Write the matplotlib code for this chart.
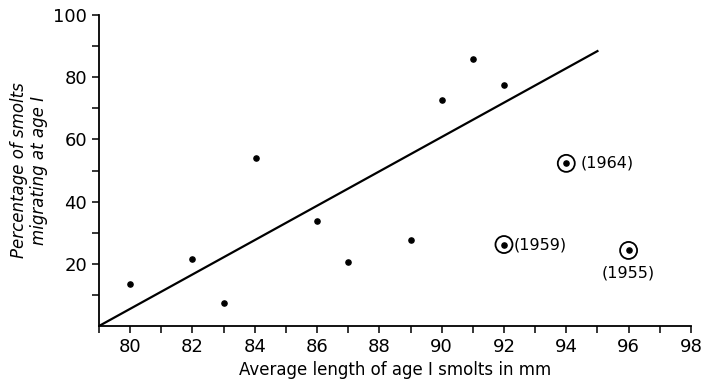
import matplotlib.pyplot as plt

# data
length = [80, 82, 83, 84.05, 86, 87, 89, 90, 91, 92]
percent = [13.4, 21.7, 7.3, 54.0, 33.7, 20.6, 27.6, 72.6, 85.8, 77.6]

odd_length = [92, 94, 96]
odd_percent = [26.2, 52.3, 24.3]
odd_years = ["(1959)", "(1964)", "(1955)"]

fit_x = [79, 95]
fit_y = [0, 88.4]

plt.rcParams['font.family'] = ['DejaVu Sans']

fig = plt.figure(figsize=(7.05, 3.85), dpi=100)
ax = fig.add_axes([0.1404, 0.1532, 0.8396, 0.8078])

ax.plot(fit_x, fit_y, color='black', lw=1.6)
ax.scatter(length, percent, s=14, color='black', zorder=3)
ax.scatter(odd_length, odd_percent, s=14, color='black', zorder=3)
ax.scatter(odd_length, odd_percent, s=150, facecolors='none',
           edgecolors='black', linewidths=1.3, zorder=3)

# year labels
ax.text(92.3, 26.2, odd_years[0], fontsize=11.5, va='center', ha='left')
ax.text(94.45, 52.3, odd_years[1], fontsize=11.5, va='center', ha='left')
ax.text(96, 19.5, odd_years[2], fontsize=11.5, va='top', ha='center')

ax.set_xlim(79, 98)
ax.set_ylim(0, 100)
ax.set_xticks(range(80, 99, 2))
ax.set_xticks(range(79, 99), minor=True)
ax.set_yticks([20, 40, 60, 80, 100])
ax.set_yticks(range(10, 100, 20), minor=True)
ax.tick_params(axis='both', which='major', labelsize=13, length=5, width=1.1)
ax.tick_params(axis='both', which='minor', length=5, width=1.1)

for side in ['top', 'right']:
    ax.spines[side].set_visible(False)
for side in ['left', 'bottom']:
    ax.spines[side].set_linewidth(1.3)

ax.set_xlabel('Average length of age I smolts in mm', fontsize=12)
ax.set_ylabel('Percentage of smolts\nmigrating at age I', fontsize=12,
              style='italic', linespacing=1.1)

fig.savefig('out.png', dpi=100)
